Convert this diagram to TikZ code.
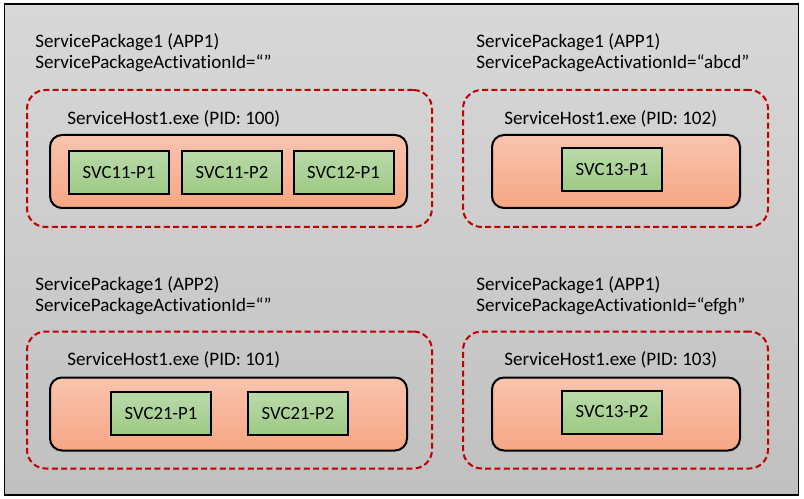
\documentclass[tikz,border=0pt]{standalone}
\usepackage{fontspec}
\setmainfont[Ligatures=NoCommon]{Carlito}
\definecolor{bgtop}{HTML}{D8D8D8}
\definecolor{bgbot}{HTML}{C0C0C0}
\definecolor{hosttop}{HTML}{F8C4AE}
\definecolor{hostbot}{HTML}{F7A684}
\definecolor{svctop}{HTML}{BADAAA}
\definecolor{svcbot}{HTML}{9DCA84}
\definecolor{pkgred}{HTML}{C00000}
\tikzset{
  panel/.style={ % grey background of the whole picture
    draw=black, line width=1.1pt, top color=bgtop, bottom color=bgbot,
    inner sep=0pt
  },
  pkg/.style={ % dashed outline of a service package activation
    draw=pkgred, line width=1.5pt, dash pattern=on 4.5pt off 2.5pt,
    rounded corners=14pt, minimum height=102.75pt, inner sep=0pt
  },
  host/.style={ % host process box
    draw=black, line width=1.5pt, rounded corners=9pt,
    top color=hosttop, bottom color=hostbot,
    minimum height=54.75pt, inner sep=0pt
  },
  svc/.style={ % replica box
    draw=black, line width=1.5pt, top color=svctop, bottom color=svcbot,
    minimum width=75pt, minimum height=32.25pt, inner sep=0pt,
    font=\fontsize{14}{15.75}\selectfont
  },
  lbl/.style={
    anchor=west, inner sep=0pt, align=left,
    font=\fontsize{14.3}{15.75}\selectfont
  }
}
\begin{document}
\begin{tikzpicture}[x=0.75pt, y=-0.75pt]
    \useasboundingbox (0,0) rectangle (804,499);
    \node[panel, minimum width=595.5pt, minimum height=368.25pt] (bg) at (401.5,249.5) {};

    % top left
    \node[pkg, minimum width=303.75pt] (pkgA) at (229.5,158.5) {};
    \node[host, minimum width=267.75pt] (hostA) at (228.5,171.5) {};
    \node[svc] (svcA1) at (119,172.5) {SVC11-P1};
    \node[svc] (svcA2) at (232,172.5) {SVC11-P2};
    \node[svc] (svcA3) at (343.5,172.5) {SVC12-P1};
    \node[lbl] (pkgA_label) at (35,52.5) {ServicePackage1 (APP1)\\ServicePackageActivationId=“”};
    \node[lbl] (hostA_label) at (67,119) {ServiceHost1.exe (PID: 100)};

    % top right
    \node[pkg, minimum width=228.75pt] (pkgB) at (615.5,158.5) {};
    \node[host, minimum width=186pt] (hostB) at (616,171.5) {};
    \node[svc] (svcB1) at (612,170) {SVC13-P1};
    \node[lbl] (pkgB_label) at (476,52.5) {ServicePackage1 (APP1)\\ServicePackageActivationId=“abcd”};
    \node[lbl] (hostB_label) at (504,119) {ServiceHost1.exe (PID: 102)};

    % bottom left
    \node[pkg, minimum width=303.75pt] (pkgC) at (229.5,400) {};
    \node[host, minimum width=267.75pt] (hostC) at (228.5,414) {};
    \node[svc] (svcC1) at (161,413.5) {SVC21-P1};
    \node[svc] (svcC2) at (298,413.5) {SVC21-P2};
    \node[lbl] (pkgC_label) at (35,296) {ServicePackage1 (APP2)\\ServicePackageActivationId=“”};
    \node[lbl] (hostC_label) at (67,360) {ServiceHost1.exe (PID: 101)};

    % bottom right
    \node[pkg, minimum width=228.75pt] (pkgD) at (615.5,400) {};
    \node[host, minimum width=186pt] (hostD) at (616,414) {};
    \node[svc] (svcD1) at (612,412) {SVC13-P2};
    \node[lbl] (pkgD_label) at (476,296) {ServicePackage1 (APP1)\\ServicePackageActivationId=“efgh”};
    \node[lbl] (hostD_label) at (504,360) {ServiceHost1.exe (PID: 103)};
\end{tikzpicture}
\end{document}
